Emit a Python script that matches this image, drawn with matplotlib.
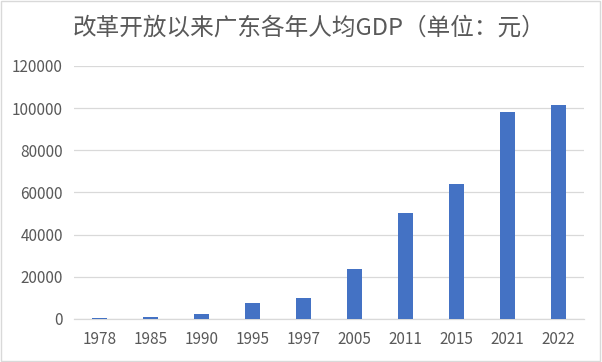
import matplotlib
matplotlib.use('Agg')
import matplotlib.pyplot as plt
from matplotlib.patches import Rectangle

plt.rcParams['font.family'] = ['Noto Sans CJK SC', 'DejaVu Sans']

years = ['1978', '1985', '1990', '1995', '1997', '2005', '2011', '2015', '2021', '2022']
gdp_per_capita = [370, 1026, 2395, 7600, 10100, 23800, 50000, 64200, 98300, 101500]
yticks = [0, 20000, 40000, 60000, 80000, 100000, 120000]

text_color = '#595959'
grid_color = '#D9D9D9'
bar_color = '#4472C4'

fig = plt.figure(figsize=(6.02, 3.62), dpi=100)
ax = fig.add_axes([0.123, 0.119, 0.847, 0.699])

x = range(len(years))
ax.bar(x, gdp_per_capita, width=0.31, color=bar_color, zorder=3)

ax.set_ylim(0, 120000)
ax.set_xlim(-0.5, len(years) - 0.5)
ax.set_yticks(yticks)
ax.set_yticklabels([str(v) for v in yticks])
ax.set_xticks(list(x))
ax.set_xticklabels(years)
ax.yaxis.grid(True, color=grid_color, linewidth=0.9, zorder=0)
ax.tick_params(axis='both', length=0, colors=text_color, labelsize=11)
ax.tick_params(axis='y', pad=8)
ax.tick_params(axis='x', pad=9)
for side in ['top', 'right', 'left']:
    ax.spines[side].set_visible(False)
ax.spines['bottom'].set_color(grid_color)
ax.spines['bottom'].set_linewidth(0.9)

fig.text(0.513, 0.923, '改革开放以来广东各年人均GDP（单位：元）',
         ha='center', va='center', fontsize=17, color=text_color)

# chart border
fig.patches.append(Rectangle((0.002, 0.003), 0.995, 0.994, transform=fig.transFigure,
                             fill=False, edgecolor='#D9D9D9', linewidth=1))

fig.savefig('out.png', dpi=100)
